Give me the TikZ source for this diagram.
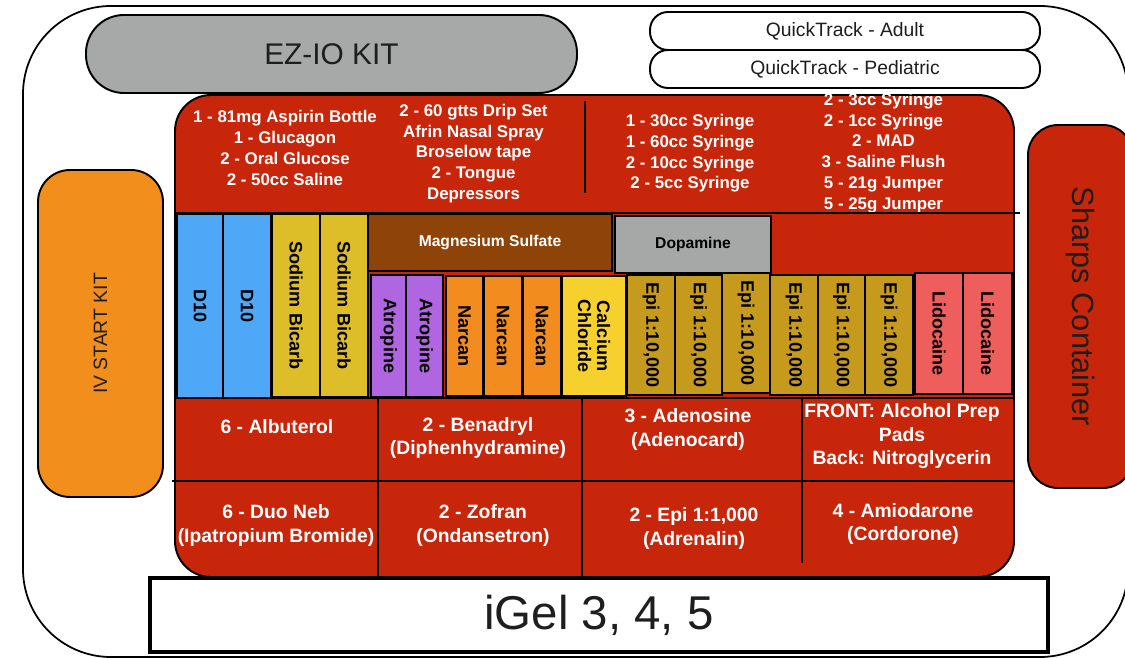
\documentclass[tikz,border=0pt]{standalone}
\usepackage{fontspec}
\setmainfont{Liberation Sans}
\definecolor{kitred}{RGB}{200,38,10}
\definecolor{ezgray}{RGB}{167,169,168}
\definecolor{ivorange}{RGB}{242,143,28}
\definecolor{d10blue}{RGB}{78,168,247}
\definecolor{bicarb}{RGB}{221,190,40}
\definecolor{magbrown}{RGB}{142,68,8}
\definecolor{atropurple}{RGB}{176,102,224}
\definecolor{narcanorange}{RGB}{242,140,30}
\definecolor{cacl}{RGB}{246,208,44}
\definecolor{epigold}{RGB}{198,155,29}
\definecolor{lidored}{RGB}{238,94,92}
\definecolor{dopagray}{RGB}{166,168,167}
\definecolor{inkdark}{RGB}{30,30,30}
\begin{document}
\begin{tikzpicture}[x=0.02cm,y=-0.02cm,
  sz/.style 2 args={minimum width=#1*0.02cm, minimum height=#2*0.02cm},
  base/.style={draw=black, line width=1.1pt, inner sep=0pt, outer sep=0pt},
  vial/.style={base, font=\fontsize{10.3}{11}\selectfont\bfseries, text=black, align=center},
  redtxt/.style={text=white, font=\fontsize{9.6}{11.8}\selectfont\bfseries, align=center, inner sep=0pt},
  cell/.style={text=white, font=\fontsize{11}{13.2}\selectfont\bfseries, align=center, inner sep=0pt},
  divider/.style={black, line width=1.1pt},
  biglabel/.style={text=inkdark, align=center},
]
\useasboundingbox (0,0) rectangle (1125,658);
\clip (0,0) rectangle (1125,658);
\fill[white] (0,0) rectangle (1125,658);

% outer case
\node[base, line width=1pt, rounded corners=88*0.02cm, sz={1105}{651}] (outer) at (575.5,331.5) {};

% top items
\node[base, fill=ezgray, rounded corners=38*0.02cm, sz={491}{78}, biglabel, font=\fontsize{17}{20}\selectfont] (ezio) at (331.5,54) {EZ-IO KIT};
\node[base, fill=white, rounded corners=18*0.02cm, sz={390}{38}, biglabel, font=\fontsize{11}{13}\selectfont] (qtadult) at (845,31) {QuickTrack - Adult};
\node[base, fill=white, rounded corners=18*0.02cm, sz={390}{38}, biglabel, font=\fontsize{11}{13}\selectfont] (qtped) at (845,69) {QuickTrack - Pediatric};

% side items
\node[base, fill=ivorange, rotate=90, rounded corners=32*0.02cm, sz={327}{125}, biglabel, font=\fontsize{11}{13}\selectfont] (iv) at (100.5,333.5) {IV START KIT};
\node[base, fill=kitred, rotate=-90, rounded corners=30*0.02cm, sz={363}{105}, biglabel, font=\fontsize{17.5}{20}\selectfont] (sharps) at (1080.5,306.5) {Sharps Container};

% main red tray
\node[base, fill=kitred, rounded corners=36*0.02cm, sz={839}{482}] (tray) at (594.5,336) {};

% top compartment texts
\node[redtxt] (t1) at (285,148) {1 - 81mg Aspirin Bottle\\1 - Glucagon\\2 - Oral Glucose\\2 - 50cc Saline};
\node[redtxt] (t2) at (473.5,153.5) {2 - 60 gtts Drip Set\\Afrin Nasal Spray\\Broselow tape\\2 - Tongue\\Depressors};
\node[redtxt] (t3) at (690,153.5) {1 - 30cc Syringe\\1 - 60cc Syringe\\2 - 10cc Syringe\\2 - 5cc Syringe};
\node[redtxt] (t4) at (883.5,153) {2 - 3cc Syringe\\2 - 1cc Syringe\\2 - MAD\\3 - Saline Flush\\5 - 21g Jumper\\5 - 25g Jumper};

% dividers
\draw[divider] (585,101) -- (585,193);
\draw[divider] (175,213) -- (1020,213);
\draw[divider] (175,398) -- (1014,398);
\draw[divider] (172,481) -- (1014,481);
\draw[divider] (378,398) -- (378,577);
\draw[divider] (582,398) -- (582,577);
\draw[divider] (802,398) -- (802,563);

% vials
\node[vial, fill=d10blue, rotate=-90, sz={184}{46}] (d10a) at (200,306) {D10};
\node[vial, fill=d10blue, rotate=-90, sz={184}{48}] (d10b) at (247,306) {D10};
\node[vial, fill=bicarb, rotate=-90, sz={183}{48}] (sb1) at (296,305.5) {Sodium Bicarb};
\node[vial, fill=bicarb, rotate=-90, sz={183}{48}] (sb2) at (344,305.5) {Sodium Bicarb};
\node[vial, fill=magbrown, text=white, font=\fontsize{8.9}{10}\selectfont\bfseries, sz={244}{57}] (mgso4) at (490,242.5) {Magnesium Sulfate};
\node[vial, fill=atropurple, rotate=-90, sz={122}{35}] (atr1) at (388.5,336) {Atropine};
\node[vial, fill=atropurple, rotate=-90, sz={122}{37}] (atr2) at (424.5,336) {Atropine};
\node[vial, fill=narcanorange, rotate=-90, sz={120}{37}] (nar1) at (464.5,336) {Narcan};
\node[vial, fill=narcanorange, rotate=-90, sz={120}{38}] (nar2) at (503,336) {Narcan};
\node[vial, fill=narcanorange, rotate=-90, sz={120}{38}] (nar3) at (542,336) {Narcan};
\node[vial, fill=cacl, rotate=-90, sz={120}{64}, font=\fontsize{10.3}{10.8}\selectfont\bfseries] (cacl) at (594,336) {Calcium\\Chloride};
\node[vial, fill=dopagray, font=\fontsize{8.9}{10}\selectfont\bfseries, sz={156}{57}] (dopa) at (693,244.5) {Dopamine};
\node[vial, fill=epigold, rotate=-90, sz={120}{48}] (epi1) at (651,335) {Epi 1:10,000};
\node[vial, fill=epigold, rotate=-90, sz={120}{47}] (epi2) at (698.5,335) {Epi 1:10,000};
\node[vial, fill=epigold, rotate=-90, sz={120}{48}] (epi3) at (746,333) {Epi 1:10,000};
\node[vial, fill=epigold, rotate=-90, sz={120}{48}] (epi4) at (794,335) {Epi 1:10,000};
\node[vial, fill=epigold, rotate=-90, sz={120}{47}] (epi5) at (841.5,335) {Epi 1:10,000};
\node[vial, fill=epigold, rotate=-90, sz={120}{48}] (epi6) at (889,335) {Epi 1:10,000};
\node[vial, fill=lidored, rotate=-90, sz={121}{48}] (lido1) at (939,333.5) {Lidocaine};
\node[vial, fill=lidored, rotate=-90, sz={121}{49}] (lido2) at (987.5,333.5) {Lidocaine};

% bottom compartments
\node[cell] (c11) at (277,427) {6 - Albuterol};
\node[cell] (c12) at (478,438) {2 - Benadryl\\(Diphenhydramine)};
\node[cell] (c13) at (688,429.5) {3 - Adenosine\\(Adenocard)};
\node[cell, font=\fontsize{11}{13.4}\selectfont\bfseries] (c14) at (902,436.5) {FRONT: Alcohol Prep\\Pads\\Back: Nitroglycerin};
\node[cell] (c21) at (276,525.5) {6 - Duo Neb\\(Ipatropium Bromide)};
\node[cell] (c22) at (483,525.5) {2 - Zofran\\(Ondansetron)};
\node[cell] (c23) at (694,528.5) {2 - Epi 1:1,000\\(Adrenalin)};
\node[cell] (c24) at (903,524) {4 - Amiodarone\\(Cordorone)};

% iGel
\node[base, line width=2.3pt, fill=white, sz={898}{74}, biglabel, font=\fontsize{27}{30}\selectfont] (igel) at (599,615) {iGel 3, 4, 5};
\end{tikzpicture}
\end{document}
